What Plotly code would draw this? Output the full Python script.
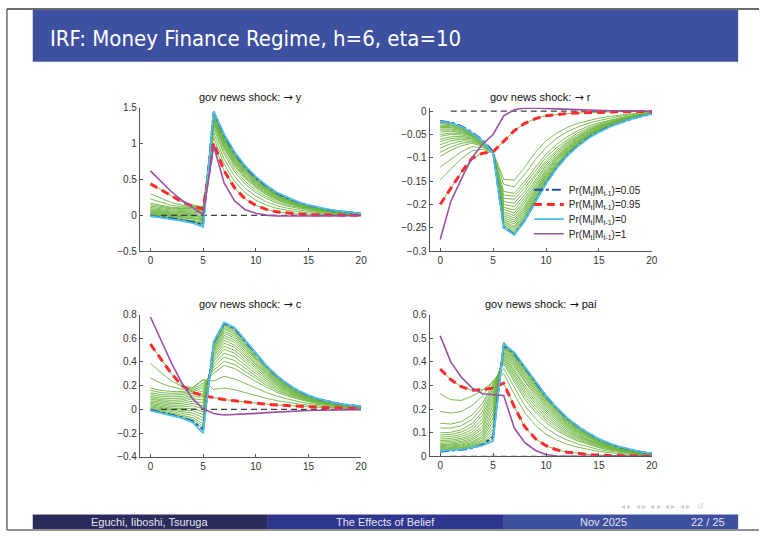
import plotly.graph_objects as go

# Horizon (quarters after the news arrives)
HORIZON = list(range(21))
ZERO = [0.0] * 20  # reference line drawn from t=1 to t=20

# ---------- gov news shock -> y ----------
Y_P0 = [-0.01, -0.03, -0.05, -0.075, -0.105, -0.16, 1.45, 1.13, 0.88, 0.69, 0.54,
        0.42, 0.32, 0.25, 0.19, 0.145, 0.11, 0.08, 0.06, 0.045, 0.03]
Y_P005 = [-0.005, -0.02, -0.04, -0.065, -0.09, -0.13, 1.44, 1.115, 0.865, 0.675, 0.525,
          0.41, 0.31, 0.242, 0.185, 0.14, 0.107, 0.078, 0.058, 0.044, 0.029]
Y_P095 = [0.44, 0.36, 0.27, 0.19, 0.13, 0.09, 1.01, 0.62, 0.38, 0.23, 0.14,
          0.085, 0.05, 0.03, 0.02, 0.012, 0.008, 0.005, 0.003, 0.002, 0.001]
Y_P1 = [0.62, 0.47, 0.33, 0.21, 0.11, 0.01, 0.97, 0.45, 0.2, 0.08, 0.03,
        0.005, -0.005, -0.008, -0.008, -0.007, -0.006, -0.005, -0.004, -0.003, -0.002]
Y_GREEN = [
    [-0.005, -0.025, -0.045, -0.07, -0.095, -0.13, 1.441, 1.12, 0.87, 0.681, 0.532, 0.413, 0.315, 0.246, 0.187, 0.142, 0.108, 0.079, 0.059, 0.044, 0.029],
    [-0.003, -0.022, -0.04, -0.062, -0.085, -0.118, 1.435, 1.112, 0.862, 0.674, 0.526, 0.408, 0.311, 0.242, 0.184, 0.14, 0.106, 0.078, 0.058, 0.043, 0.029],
    [0.0, -0.02, -0.035, -0.055, -0.075, -0.105, 1.428, 1.105, 0.855, 0.667, 0.52, 0.403, 0.307, 0.239, 0.182, 0.138, 0.105, 0.076, 0.057, 0.043, 0.029],
    [0.008, -0.012, -0.028, -0.045, -0.062, -0.09, 1.419, 1.094, 0.845, 0.658, 0.512, 0.396, 0.301, 0.234, 0.178, 0.135, 0.103, 0.075, 0.056, 0.042, 0.028],
    [0.015, -0.005, -0.02, -0.035, -0.05, -0.075, 1.41, 1.084, 0.835, 0.649, 0.504, 0.39, 0.296, 0.23, 0.175, 0.133, 0.101, 0.073, 0.055, 0.041, 0.027],
    [0.022, 0.002, -0.012, -0.025, -0.038, -0.06, 1.402, 1.074, 0.825, 0.64, 0.496, 0.383, 0.29, 0.226, 0.172, 0.13, 0.099, 0.072, 0.054, 0.04, 0.027],
    [0.03, 0.01, -0.005, -0.015, -0.025, -0.045, 1.393, 1.064, 0.815, 0.63, 0.488, 0.376, 0.285, 0.221, 0.168, 0.128, 0.097, 0.07, 0.053, 0.039, 0.026],
    [0.04, 0.02, 0.005, -0.005, -0.012, -0.03, 1.382, 1.051, 0.802, 0.618, 0.478, 0.368, 0.278, 0.216, 0.164, 0.124, 0.094, 0.068, 0.052, 0.038, 0.025],
    [0.05, 0.03, 0.015, 0.005, 0.0, -0.015, 1.371, 1.038, 0.79, 0.607, 0.468, 0.36, 0.271, 0.21, 0.159, 0.121, 0.092, 0.067, 0.05, 0.037, 0.025],
    [0.06, 0.04, 0.025, 0.018, 0.015, 0.003, 1.358, 1.023, 0.775, 0.594, 0.456, 0.35, 0.263, 0.204, 0.154, 0.117, 0.089, 0.064, 0.048, 0.036, 0.024],
    [0.07, 0.05, 0.035, 0.03, 0.03, 0.02, 1.344, 1.008, 0.76, 0.58, 0.444, 0.34, 0.255, 0.197, 0.149, 0.113, 0.086, 0.062, 0.046, 0.035, 0.023],
    [0.082, 0.062, 0.048, 0.042, 0.045, 0.035, 1.329, 0.99, 0.742, 0.564, 0.43, 0.328, 0.246, 0.19, 0.143, 0.108, 0.082, 0.06, 0.044, 0.033, 0.022],
    [0.095, 0.075, 0.06, 0.055, 0.06, 0.05, 1.314, 0.972, 0.725, 0.547, 0.416, 0.316, 0.236, 0.182, 0.137, 0.104, 0.078, 0.057, 0.042, 0.032, 0.021],
    [0.112, 0.09, 0.075, 0.07, 0.075, 0.065, 1.296, 0.952, 0.705, 0.529, 0.4, 0.302, 0.226, 0.173, 0.13, 0.098, 0.074, 0.054, 0.04, 0.03, 0.02],
    [0.13, 0.105, 0.09, 0.085, 0.09, 0.08, 1.278, 0.931, 0.685, 0.511, 0.384, 0.289, 0.215, 0.164, 0.124, 0.093, 0.07, 0.051, 0.038, 0.028, 0.019],
    [0.15, 0.122, 0.102, 0.095, 0.102, 0.09, 1.243, 0.89, 0.645, 0.474, 0.352, 0.262, 0.194, 0.146, 0.11, 0.082, 0.062, 0.045, 0.033, 0.024, 0.016],
    [0.17, 0.14, 0.115, 0.105, 0.115, 0.1, 1.208, 0.85, 0.605, 0.437, 0.32, 0.236, 0.172, 0.129, 0.097, 0.072, 0.054, 0.039, 0.029, 0.021, 0.014],
    [0.23, 0.18, 0.14, 0.125, 0.135, 0.115, 1.151, 0.783, 0.54, 0.377, 0.268, 0.192, 0.136, 0.1, 0.074, 0.055, 0.041, 0.029, 0.021, 0.016, 0.01],
    [0.30, 0.235, 0.18, 0.145, 0.145, 0.12, 1.089, 0.712, 0.47, 0.313, 0.212, 0.145, 0.099, 0.07, 0.051, 0.036, 0.026, 0.019, 0.013, 0.01, 0.006],
]

# ---------- gov news shock -> r ----------
R_P0 = [-0.022, -0.025, -0.033, -0.046, -0.064, -0.09, -0.25, -0.265, -0.235, -0.195, -0.155,
        -0.123, -0.096, -0.075, -0.058, -0.045, -0.034, -0.025, -0.017, -0.011, -0.006]
R_P005 = [-0.021, -0.024, -0.032, -0.045, -0.062, -0.087, -0.249, -0.264, -0.234, -0.194, -0.154,
          -0.122, -0.095, -0.074, -0.057, -0.044, -0.033, -0.025, -0.017, -0.011, -0.006]
R_P095 = [-0.2, -0.166, -0.131, -0.101, -0.09, -0.087, -0.064, -0.042, -0.026, -0.016, -0.01,
          -0.007, -0.005, -0.004, -0.003, -0.002, -0.0015, -0.001, -0.001, -0.0005, -0.0005]
R_P1 = [-0.275, -0.194, -0.145, -0.1, -0.071, -0.05, -0.01, 0.003, 0.007, 0.007, 0.006,
        0.005, 0.004, 0.003, 0.002, 0.0015, 0.001, 0.001, 0.0005, 0.0005, 0.0]
R_GREEN = [
    [-0.024, -0.026, -0.034, -0.047, -0.064, -0.09, -0.246, -0.261, -0.231, -0.191, -0.152, -0.121, -0.094, -0.074, -0.057, -0.044, -0.033, -0.025, -0.017, -0.011, -0.006],
    [-0.025, -0.027, -0.035, -0.047, -0.064, -0.09, -0.244, -0.258, -0.228, -0.188, -0.15, -0.119, -0.092, -0.072, -0.056, -0.043, -0.032, -0.024, -0.016, -0.010, -0.006],
    [-0.027, -0.029, -0.036, -0.048, -0.065, -0.09, -0.241, -0.254, -0.225, -0.186, -0.148, -0.117, -0.091, -0.071, -0.055, -0.043, -0.032, -0.024, -0.016, -0.010, -0.006],
    [-0.03, -0.031, -0.037, -0.048, -0.065, -0.09, -0.238, -0.25, -0.222, -0.184, -0.146, -0.116, -0.09, -0.07, -0.054, -0.042, -0.032, -0.024, -0.016, -0.010, -0.006],
    [-0.033, -0.033, -0.039, -0.049, -0.066, -0.09, -0.235, -0.247, -0.218, -0.181, -0.143, -0.114, -0.089, -0.069, -0.054, -0.042, -0.031, -0.023, -0.016, -0.010, -0.006],
    [-0.035, -0.035, -0.04, -0.05, -0.066, -0.09, -0.232, -0.242, -0.214, -0.178, -0.14, -0.112, -0.087, -0.068, -0.052, -0.041, -0.03, -0.022, -0.015, -0.010, -0.005],
    [-0.038, -0.038, -0.042, -0.051, -0.066, -0.09, -0.228, -0.238, -0.21, -0.174, -0.138, -0.109, -0.085, -0.066, -0.051, -0.04, -0.030, -0.022, -0.015, -0.010, -0.005],
    [-0.041, -0.04, -0.044, -0.052, -0.066, -0.09, -0.224, -0.234, -0.206, -0.17, -0.135, -0.106, -0.083, -0.065, -0.05, -0.039, -0.03, -0.022, -0.015, -0.009, -0.005],
    [-0.045, -0.043, -0.046, -0.053, -0.067, -0.09, -0.22, -0.229, -0.202, -0.166, -0.132, -0.104, -0.081, -0.064, -0.049, -0.038, -0.029, -0.021, -0.014, -0.009, -0.005],
    [-0.05, -0.047, -0.048, -0.054, -0.068, -0.09, -0.216, -0.224, -0.196, -0.162, -0.128, -0.102, -0.079, -0.062, -0.048, -0.037, -0.028, -0.021, -0.014, -0.009, -0.005],
    [-0.054, -0.05, -0.051, -0.056, -0.069, -0.089, -0.211, -0.218, -0.191, -0.157, -0.125, -0.099, -0.077, -0.06, -0.046, -0.036, -0.027, -0.020, -0.014, -0.009, -0.005],
    [-0.06, -0.055, -0.054, -0.058, -0.07, -0.089, -0.206, -0.212, -0.185, -0.152, -0.12, -0.096, -0.074, -0.058, -0.044, -0.034, -0.026, -0.02, -0.013, -0.008, -0.005],
    [-0.065, -0.059, -0.057, -0.059, -0.07, -0.089, -0.2, -0.205, -0.179, -0.147, -0.116, -0.092, -0.071, -0.056, -0.043, -0.033, -0.025, -0.019, -0.013, -0.008, -0.005],
    [-0.072, -0.064, -0.06, -0.062, -0.071, -0.089, -0.194, -0.197, -0.172, -0.14, -0.111, -0.088, -0.068, -0.054, -0.041, -0.032, -0.024, -0.018, -0.012, -0.008, -0.004],
    [-0.079, -0.07, -0.064, -0.064, -0.072, -0.089, -0.187, -0.189, -0.164, -0.134, -0.106, -0.084, -0.065, -0.051, -0.039, -0.030, -0.023, -0.017, -0.012, -0.007, -0.004],
    [-0.088, -0.077, -0.069, -0.066, -0.073, -0.089, -0.18, -0.182, -0.157, -0.127, -0.099, -0.078, -0.061, -0.047, -0.036, -0.028, -0.021, -0.016, -0.011, -0.007, -0.004],
    [-0.097, -0.084, -0.074, -0.069, -0.075, -0.089, -0.172, -0.176, -0.15, -0.12, -0.092, -0.071, -0.055, -0.042, -0.032, -0.025, -0.019, -0.014, -0.010, -0.007, -0.004],
    [-0.12, -0.103, -0.087, -0.076, -0.078, -0.088, -0.157, -0.162, -0.135, -0.104, -0.078, -0.058, -0.044, -0.034, -0.026, -0.02, -0.015, -0.011, -0.008, -0.005, -0.003],
    [-0.147, -0.124, -0.102, -0.085, -0.082, -0.088, -0.146, -0.148, -0.12, -0.088, -0.064, -0.047, -0.035, -0.026, -0.02, -0.015, -0.011, -0.008, -0.006, -0.004, -0.002],
]

# ---------- gov news shock -> c ----------
C_P0 = [-0.01, -0.03, -0.05, -0.075, -0.11, -0.2, 0.57, 0.735, 0.69, 0.58, 0.47,
        0.37, 0.285, 0.215, 0.16, 0.118, 0.087, 0.064, 0.047, 0.035, 0.026]
C_P005 = [-0.005, -0.025, -0.045, -0.068, -0.1, -0.17, 0.565, 0.728, 0.683, 0.574, 0.465,
          0.366, 0.282, 0.213, 0.158, 0.117, 0.086, 0.063, 0.046, 0.034, 0.025]
C_P095 = [0.55, 0.42, 0.3, 0.2, 0.145, 0.115, 0.097, 0.083, 0.072, 0.061, 0.052,
          0.044, 0.037, 0.031, 0.026, 0.021, 0.017, 0.014, 0.011, 0.008, 0.006]
C_P1 = [0.78, 0.58, 0.39, 0.22, 0.09, 0.005, -0.035, -0.048, -0.045, -0.04, -0.034,
        -0.028, -0.022, -0.017, -0.013, -0.01, -0.007, -0.005, -0.004, -0.003, -0.002]
C_GREEN = [
    [-0.005, -0.025, -0.045, -0.07, -0.1, -0.16, 0.561, 0.722, 0.678, 0.57, 0.462, 0.363, 0.28, 0.211, 0.157, 0.116, 0.086, 0.063, 0.046, 0.034, 0.026],
    [0.0, -0.018, -0.038, -0.06, -0.085, -0.14, 0.554, 0.712, 0.668, 0.562, 0.456, 0.358, 0.276, 0.208, 0.155, 0.114, 0.085, 0.062, 0.046, 0.034, 0.025],
    [0.005, -0.012, -0.03, -0.05, -0.07, -0.12, 0.546, 0.702, 0.659, 0.554, 0.449, 0.354, 0.273, 0.206, 0.153, 0.113, 0.084, 0.062, 0.045, 0.034, 0.025],
    [0.012, -0.004, -0.02, -0.035, -0.05, -0.095, 0.536, 0.689, 0.646, 0.544, 0.44, 0.348, 0.268, 0.202, 0.15, 0.111, 0.082, 0.061, 0.044, 0.033, 0.024],
    [0.02, 0.005, -0.01, -0.02, -0.03, -0.07, 0.527, 0.676, 0.634, 0.533, 0.432, 0.341, 0.263, 0.198, 0.148, 0.109, 0.081, 0.06, 0.044, 0.033, 0.024],
    [0.03, 0.015, 0.0, -0.008, -0.01, -0.045, 0.516, 0.66, 0.618, 0.52, 0.422, 0.332, 0.256, 0.194, 0.144, 0.106, 0.079, 0.058, 0.043, 0.032, 0.024],
    [0.04, 0.025, 0.01, 0.005, 0.01, -0.02, 0.504, 0.644, 0.603, 0.507, 0.411, 0.324, 0.25, 0.189, 0.141, 0.104, 0.077, 0.057, 0.042, 0.031, 0.023],
    [0.05, 0.035, 0.022, 0.02, 0.03, 0.005, 0.49, 0.624, 0.584, 0.492, 0.398, 0.314, 0.242, 0.184, 0.137, 0.102, 0.075, 0.056, 0.041, 0.03, 0.022],
    [0.06, 0.045, 0.035, 0.035, 0.05, 0.03, 0.475, 0.605, 0.566, 0.476, 0.386, 0.305, 0.235, 0.178, 0.133, 0.099, 0.073, 0.054, 0.04, 0.030, 0.022],
    [0.072, 0.058, 0.048, 0.05, 0.07, 0.055, 0.458, 0.582, 0.544, 0.458, 0.372, 0.294, 0.226, 0.172, 0.128, 0.096, 0.07, 0.052, 0.038, 0.029, 0.022],
    [0.085, 0.07, 0.06, 0.065, 0.09, 0.08, 0.442, 0.559, 0.523, 0.44, 0.357, 0.282, 0.218, 0.165, 0.124, 0.092, 0.068, 0.051, 0.037, 0.028, 0.021],
    [0.098, 0.082, 0.075, 0.08, 0.105, 0.105, 0.423, 0.533, 0.498, 0.419, 0.34, 0.269, 0.208, 0.158, 0.118, 0.088, 0.066, 0.049, 0.036, 0.027, 0.02],
    [0.11, 0.095, 0.09, 0.095, 0.12, 0.13, 0.404, 0.507, 0.474, 0.398, 0.324, 0.256, 0.198, 0.151, 0.113, 0.084, 0.063, 0.047, 0.034, 0.026, 0.019],
    [0.125, 0.11, 0.105, 0.11, 0.135, 0.155, 0.38, 0.474, 0.443, 0.372, 0.303, 0.24, 0.186, 0.142, 0.106, 0.079, 0.06, 0.044, 0.032, 0.024, 0.018],
    [0.14, 0.125, 0.12, 0.125, 0.15, 0.18, 0.357, 0.442, 0.412, 0.346, 0.282, 0.223, 0.173, 0.132, 0.1, 0.074, 0.056, 0.042, 0.031, 0.023, 0.017],
    [0.16, 0.142, 0.135, 0.138, 0.16, 0.2, 0.331, 0.406, 0.378, 0.318, 0.259, 0.205, 0.16, 0.122, 0.092, 0.069, 0.052, 0.039, 0.029, 0.022, 0.016],
    [0.18, 0.16, 0.15, 0.15, 0.17, 0.22, 0.305, 0.37, 0.344, 0.289, 0.236, 0.187, 0.146, 0.112, 0.085, 0.064, 0.048, 0.036, 0.027, 0.02, 0.015],
    [0.265, 0.22, 0.19, 0.17, 0.18, 0.25, 0.239, 0.279, 0.257, 0.217, 0.177, 0.142, 0.111, 0.086, 0.066, 0.05, 0.038, 0.029, 0.022, 0.016, 0.012],
    [0.39, 0.31, 0.24, 0.195, 0.185, 0.25, 0.168, 0.181, 0.165, 0.139, 0.115, 0.093, 0.074, 0.059, 0.046, 0.036, 0.028, 0.022, 0.016, 0.012, 0.009],
]

# ---------- gov news shock -> pai ----------
PI_P0 = [0.022, 0.025, 0.03, 0.037, 0.047, 0.065, 0.475, 0.44, 0.38, 0.32, 0.258,
         0.207, 0.163, 0.128, 0.099, 0.074, 0.055, 0.04, 0.028, 0.019, 0.012]
PI_P005 = [0.02, 0.023, 0.028, 0.035, 0.05, 0.083, 0.47, 0.435, 0.376, 0.317, 0.255,
           0.205, 0.161, 0.127, 0.098, 0.073, 0.054, 0.039, 0.028, 0.019, 0.012]
PI_P095 = [0.37, 0.325, 0.295, 0.28, 0.283, 0.29, 0.31, 0.21, 0.125, 0.075, 0.045,
           0.028, 0.018, 0.012, 0.008, 0.005, 0.004, 0.003, 0.002, 0.001, 0.001]
PI_P1 = [0.51, 0.4, 0.335, 0.29, 0.265, 0.26, 0.258, 0.12, 0.058, 0.025, 0.008,
         0.002, 0.0, 0.0, 0.0, 0.0, 0.0, 0.0, 0.0, 0.0, 0.0]
PI_GREEN = [
    [0.025, 0.027, 0.032, 0.039, 0.05, 0.075, 0.484, 0.435, 0.375, 0.315, 0.254, 0.203, 0.16, 0.126, 0.097, 0.073, 0.054, 0.039, 0.027, 0.019, 0.012],
    [0.027, 0.03, 0.034, 0.042, 0.054, 0.088, 0.482, 0.432, 0.371, 0.312, 0.25, 0.2, 0.158, 0.124, 0.096, 0.072, 0.053, 0.038, 0.027, 0.018, 0.012],
    [0.03, 0.032, 0.037, 0.045, 0.058, 0.1, 0.479, 0.429, 0.367, 0.308, 0.247, 0.198, 0.156, 0.122, 0.094, 0.071, 0.052, 0.038, 0.027, 0.018, 0.011],
    [0.034, 0.036, 0.04, 0.049, 0.064, 0.115, 0.476, 0.424, 0.362, 0.303, 0.243, 0.194, 0.153, 0.12, 0.092, 0.07, 0.051, 0.038, 0.026, 0.018, 0.011],
    [0.037, 0.039, 0.044, 0.053, 0.07, 0.13, 0.472, 0.419, 0.357, 0.298, 0.239, 0.191, 0.15, 0.118, 0.091, 0.068, 0.05, 0.037, 0.026, 0.017, 0.011],
    [0.041, 0.043, 0.048, 0.058, 0.078, 0.148, 0.468, 0.414, 0.35, 0.292, 0.234, 0.186, 0.146, 0.115, 0.088, 0.066, 0.049, 0.036, 0.025, 0.016, 0.01],
    [0.045, 0.047, 0.052, 0.063, 0.085, 0.165, 0.463, 0.408, 0.344, 0.286, 0.228, 0.182, 0.143, 0.112, 0.086, 0.064, 0.048, 0.035, 0.024, 0.016, 0.010],
    [0.05, 0.052, 0.058, 0.07, 0.095, 0.182, 0.458, 0.401, 0.336, 0.278, 0.222, 0.176, 0.138, 0.108, 0.084, 0.062, 0.046, 0.034, 0.024, 0.016, 0.01],
    [0.055, 0.057, 0.063, 0.076, 0.105, 0.2, 0.452, 0.394, 0.329, 0.271, 0.215, 0.171, 0.134, 0.105, 0.081, 0.06, 0.045, 0.033, 0.023, 0.015, 0.010],
    [0.061, 0.063, 0.07, 0.084, 0.118, 0.218, 0.446, 0.386, 0.32, 0.262, 0.208, 0.165, 0.129, 0.101, 0.078, 0.058, 0.043, 0.032, 0.022, 0.014, 0.01],
    [0.067, 0.069, 0.076, 0.092, 0.13, 0.235, 0.44, 0.378, 0.311, 0.254, 0.2, 0.159, 0.124, 0.097, 0.074, 0.055, 0.041, 0.03, 0.021, 0.014, 0.009],
    [0.074, 0.076, 0.084, 0.102, 0.145, 0.25, 0.433, 0.369, 0.301, 0.244, 0.192, 0.152, 0.118, 0.092, 0.07, 0.052, 0.039, 0.028, 0.02, 0.014, 0.008],
    [0.082, 0.084, 0.093, 0.113, 0.16, 0.265, 0.426, 0.36, 0.291, 0.234, 0.183, 0.144, 0.112, 0.087, 0.067, 0.05, 0.037, 0.027, 0.019, 0.013, 0.008],
    [0.091, 0.093, 0.103, 0.125, 0.175, 0.278, 0.418, 0.35, 0.28, 0.223, 0.174, 0.136, 0.106, 0.082, 0.063, 0.047, 0.035, 0.026, 0.018, 0.012, 0.008],
    [0.1, 0.102, 0.113, 0.138, 0.19, 0.29, 0.41, 0.339, 0.268, 0.212, 0.164, 0.128, 0.099, 0.077, 0.059, 0.044, 0.033, 0.024, 0.017, 0.011, 0.007],
    [0.12, 0.12, 0.13, 0.156, 0.208, 0.3, 0.401, 0.328, 0.255, 0.2, 0.154, 0.119, 0.092, 0.071, 0.054, 0.04, 0.03, 0.022, 0.016, 0.01, 0.006],
    [0.14, 0.137, 0.147, 0.175, 0.225, 0.31, 0.392, 0.316, 0.242, 0.188, 0.143, 0.11, 0.085, 0.065, 0.05, 0.037, 0.027, 0.02, 0.014, 0.009, 0.006],
    [0.19, 0.183, 0.19, 0.215, 0.255, 0.32, 0.372, 0.29, 0.214, 0.161, 0.12, 0.091, 0.069, 0.053, 0.04, 0.029, 0.022, 0.016, 0.011, 0.007, 0.005],
    [0.265, 0.24, 0.237, 0.255, 0.28, 0.315, 0.351, 0.263, 0.184, 0.131, 0.094, 0.069, 0.051, 0.039, 0.029, 0.021, 0.016, 0.012, 0.008, 0.005, 0.004],
]

LEGEND_NAMES = [
    "Pr(M<sub>t</sub>|M<sub>t-1</sub>)=0.05",
    "Pr(M<sub>t</sub>|M<sub>t-1</sub>)=0.95",
    "Pr(M<sub>t</sub>|M<sub>t-1</sub>)=0",
    "Pr(M<sub>t</sub>|M<sub>t-1</sub>)=1",
]

W, H = 765, 537
FONT = "Liberation Sans, Arial, sans-serif"
TITLE_FONT = "Liberation Sans Narrow, DejaVu Sans Condensed, Liberation Sans, sans-serif"
GREEN = "#6CB43F"
BLUE = "#1F4FA3"
RED = "#FF2A2A"
CYAN = "#4DBEEE"
PURPLE = "#9B50A5"
AXIS = "#555555"
ARROW = "<span style='font-family:DejaVu Sans'>\u2192</span>"


def px(x):
    return x / W


def py(y):
    return 1 - y / H


PANELS = [
    dict(title="gov news shock: " + ARROW + " y", p0=Y_P0, p005=Y_P005, p095=Y_P095, p1=Y_P1,
         green=Y_GREEN, box=(141, 364, 104, 251), yrange=[-0.5, 1.5], dtick=0.5),
    dict(title="gov news shock: " + ARROW + " r", p0=R_P0, p005=R_P005, p095=R_P095, p1=R_P1,
         green=R_GREEN, box=(433, 657, 104, 250.7), yrange=[-0.3, 0.0075], dtick=0.05),
    dict(title="gov news shock: " + ARROW + " c", p0=C_P0, p005=C_P005, p095=C_P095, p1=C_P1,
         green=C_GREEN, box=(141, 364, 315.7, 461), yrange=[-0.4, 0.8], dtick=0.2),
    dict(title="gov news shock: " + ARROW + " pai", p0=PI_P0, p005=PI_P005, p095=PI_P095, p1=PI_P1,
         green=PI_GREEN, box=(433, 657, 315.7, 460.7), yrange=[0, 0.6], dtick=0.1),
]

LEGEND_KEYS = ["legend", "legend2", "legend3", "legend4"]

fig = go.Figure()
annotations = []

for i, pnl in enumerate(PANELS):
    n = "" if i == 0 else str(i + 1)
    xa, ya = "x" + n, "y" + n
    common = dict(mode="lines", xaxis=xa, yaxis=ya, hoverinfo="skip")
    legend_here = (i == 1)

    for g in pnl["green"]:
        fig.add_trace(go.Scatter(x=HORIZON, y=g, line=dict(color=GREEN, width=0.9),
                                 showlegend=False, **common))
    # intermediate-belief path that the 0.95 case sits on
    fig.add_trace(go.Scatter(x=HORIZON, y=pnl["p095"], line=dict(color=GREEN, width=0.9),
                             showlegend=False, **common))
    fig.add_trace(go.Scatter(x=HORIZON[1:], y=ZERO, line=dict(color="#404040", width=1.3, dash="6px,4px"),
                             showlegend=False, **common))
    styled = [
        (pnl["p005"], dict(color=BLUE, width=2, dash="dashdot")),
        (pnl["p095"], dict(color=RED, width=3, dash="8px,5px")),
        (pnl["p0"], dict(color=CYAN, width=1.8)),
        (pnl["p1"], dict(color=PURPLE, width=1.6)),
    ]
    for k, (vals, ln) in enumerate(styled):
        fig.add_trace(go.Scatter(x=HORIZON, y=vals, name=LEGEND_NAMES[k], line=ln,
                                 showlegend=legend_here, legend=LEGEND_KEYS[k], **common))

    x0, x1, y0, y1 = pnl["box"]
    fig.layout["xaxis" + n] = dict(
        domain=[px(x0), px(x1)], range=[-1, 20], anchor=ya,
        tickvals=[0, 5, 10, 15, 20], ticks="inside", ticklen=3, tickcolor=AXIS,
        showline=True, linecolor=AXIS, linewidth=1, showgrid=False, zeroline=False,
        tickfont=dict(family=FONT, size=10, color="#333333"),
    )
    fig.layout["yaxis" + n] = dict(
        domain=[py(y1), py(y0)], range=pnl["yrange"], anchor=xa,
        tick0=0, dtick=pnl["dtick"], ticks="inside", ticklen=3, tickcolor=AXIS,
        showline=True, linecolor=AXIS, linewidth=1, showgrid=False, zeroline=False,
        tickfont=dict(family=FONT, size=10, color="#333333"),
    )
    annotations.append(dict(
        text=pnl["title"], x=px((x0 + x1) / 2), y=py(y0 - 10), xref="paper", yref="paper",
        xanchor="center", yanchor="middle", showarrow=False,
        font=dict(family=FONT, size=11, color="#111111"),
    ))

# slide frame, title bar and footer
HEADER = "#3E50A0"
shapes = [
    dict(type="rect", x0=px(33), x1=px(744), y0=py(57), y1=py(4), fillcolor=HEADER, line_width=0),
    dict(type="rect", x0=px(33), x1=px(270), y0=py(535), y1=py(520), fillcolor="#2B2B5C", line_width=0),
    dict(type="rect", x0=px(270), x1=px(507), y0=py(535), y1=py(520), fillcolor="#2F3690", line_width=0),
    dict(type="rect", x0=px(507), x1=px(744), y0=py(535), y1=py(520), fillcolor=HEADER, line_width=0),
    dict(type="line", x0=px(7), x1=1, y0=py(3), y1=py(3), line=dict(color="#6A6A6A", width=2)),
    dict(type="line", x0=px(7), x1=px(7), y0=py(3), y1=py(536), line=dict(color="#6A6A6A", width=1.5)),
    dict(type="line", x0=px(7), x1=1, y0=py(536), y1=py(536), line=dict(color="#6A6A6A", width=1.5)),
]
for s in shapes:
    s.update(xref="paper", yref="paper", layer="below")

slide_text = [
    dict(text="IRF: Money Finance Regime, h=6, eta=10", x=px(48), y=py(33), xanchor="left",
         yanchor="middle", font=dict(family=TITLE_FONT, size=22, color="white")),
    dict(text="Eguchi, Iiboshi, Tsuruga", x=px(151), y=py(528), xanchor="center", yanchor="middle",
         font=dict(family=FONT, size=11, color="#E4E4EE")),
    dict(text="The Effects of Belief", x=px(389), y=py(528), xanchor="center", yanchor="middle",
         font=dict(family=FONT, size=11, color="#E4E4EE")),
    dict(text="Nov 2025", x=px(608), y=py(528), xanchor="center", yanchor="middle",
         font=dict(family=FONT, size=11, color="#E4E4EE")),
    dict(text="22 / 25", x=px(733), y=py(528), xanchor="right", yanchor="middle",
         font=dict(family=FONT, size=11, color="#E4E4EE")),
    dict(text="\u25c2 \u25b8  \u25c2 \u25b8  \u25c2 \u25b8  \u25c2 \u25b8  \u25c2 \u25b8   \u21ba",
         x=px(712), y=py(512), xanchor="right", yanchor="middle",
         font=dict(family=FONT, size=8, color="#C9CBDD")),
]
for a in slide_text:
    a.update(xref="paper", yref="paper", showarrow=False)
annotations += slide_text

legend_style = dict(xanchor="left", yanchor="middle", bgcolor="rgba(0,0,0,0)", borderwidth=0,
                    itemwidth=30, tracegroupgap=0,
                    font=dict(family=FONT, size=10, color="#222222"))
layout_legends = {}
for k, key in enumerate(LEGEND_KEYS):
    layout_legends[key] = dict(x=px(533), y=py(188 + 15 * k), **legend_style)

fig.update_layout(
    width=W, height=H, margin=dict(l=0, r=0, t=0, b=0),
    paper_bgcolor="white", plot_bgcolor="white",
    shapes=shapes, annotations=annotations,
    font=dict(family=FONT),
    **layout_legends,
)

fig.write_html("out.html")
